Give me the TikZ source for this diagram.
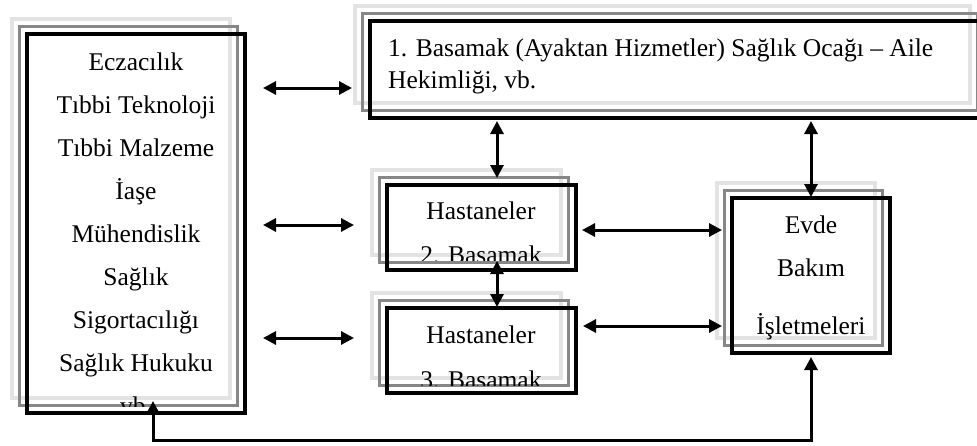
\documentclass[tikz,border=0pt]{standalone}
\usepackage{fontspec}
\setmainfont{Liberation Serif}
\usetikzlibrary{arrows.meta,fit}
\definecolor{framelight}{gray}{0.89}
\definecolor{framemid}{gray}{0.53}
\tikzset{
  framelightline/.style={draw=framelight,line width=3.5pt},
  framemidline/.style={draw=framemid,line width=3.5pt},
  frameblack/.style={rectangle,draw=black,line width=3.7pt,inner sep=0pt},
  boxtext/.style={anchor=base,inner sep=0pt,font=\fontsize{25.5}{30}\selectfont},
  link/.style={line width=3pt,{Triangle[length=13pt,width=13pt]}-{Triangle[length=13pt,width=13pt]}}
}
% three stacked frames: light, mid grey, then the black one (named node)
\newcommand\tripleframe[5]{%
  \draw[framelightline] (#2-15,#3-15) rectangle (#4-15,#5-15);
  \draw[framemidline] (#2-7.5,#3-7.5) rectangle (#4-7.5,#5-7.5);
  \node[frameblack,fit={(#2,#3) (#4,#5)}] (#1) {};
}
\begin{document}
\begin{tikzpicture}[x=1pt,y=-1pt]
\useasboundingbox (0,0) rectangle (977,445);

% frames
\tripleframe{sector}{27}{34}{245}{413}
\tripleframe{primary}{370}{21}{985}{118}
\tripleframe{hosp2}{387}{185}{576}{270}
\tripleframe{hosp3}{387}{308}{576}{393}
\tripleframe{homecare}{732}{198}{890}{353}

% supporting sectors
\begin{scope}
  \clip (27,34) rectangle (245,406);
  \node[boxtext] (s1) at (136,70) {Eczacılık};
  \node[boxtext] (s2) at (136,113) {Tıbbi Teknoloji};
  \node[boxtext] (s3) at (136,156) {Tıbbi Malzeme};
  \node[boxtext] (s4) at (136,199) {İaşe};
  \node[boxtext] (s5) at (136,242) {Mühendislik};
  \node[boxtext] (s6) at (136,285) {Sağlık};
  \node[boxtext] (s7) at (136,328) {Sigortacılığı};
  \node[boxtext] (s8) at (136,371) {Sağlık Hukuku};
  \node[boxtext] (s9) at (136,414) {vb.};
\end{scope}

% primary care
\node[boxtext,anchor=base west] (p1) at (388,56) {1. Basamak (Ayaktan Hizmetler) Sağlık Ocağı – Aile};
\node[boxtext,anchor=base west] (p2) at (388,88) {Hekimliği, vb.};

% hospitals
\begin{scope}
  \clip (387,185) rectangle (576,260);
  \node[boxtext] (h2a) at (481,219) {Hastaneler};
  \node[boxtext] (h2b) at (481,263) {2. Basamak};
\end{scope}
\begin{scope}
  \clip (387,308) rectangle (576,385);
  \node[boxtext] (h3a) at (481,343) {Hastaneler};
  \node[boxtext] (h3b) at (481,388) {3. Basamak};
\end{scope}

% home care
\node[boxtext] (e1) at (811,233) {Evde};
\node[boxtext] (e2) at (811,276) {Bakım};
\node[boxtext] (e3) at (811,334) {İşletmeleri};

% connector ends
\coordinate (a1l) at (263,88);  \coordinate (a1r) at (352,88);
\coordinate (a2l) at (263,225); \coordinate (a2r) at (354,225);
\coordinate (a3l) at (263,338); \coordinate (a3r) at (354,338);
\coordinate (v1t) at (497,121); \coordinate (v1b) at (497,178);
\coordinate (v2t) at (497,261); \coordinate (v2b) at (497,307);
\coordinate (v3t) at (811,121); \coordinate (v3b) at (811,197);
\coordinate (b2l) at (582,230); \coordinate (b2r) at (722,230);
\coordinate (b3l) at (583,326); \coordinate (b3r) at (722,326);
\coordinate (lp1) at (153,401); \coordinate (lp2) at (153,440);
\coordinate (lp3) at (811,440); \coordinate (lp4) at (811,357);

\draw[link] (a1l) -- (a1r);
\draw[link] (a2l) -- (a2r);
\draw[link] (a3l) -- (a3r);
\draw[link] (v1t) -- (v1b);
\draw[link] (v2t) -- (v2b);
\draw[link] (v3t) -- (v3b);
\draw[link] (b2l) -- (b2r);
\draw[link] (b3l) -- (b3r);
\draw[link] (lp1) -- (lp2) -- (lp3) -- (lp4);
\end{tikzpicture}
\end{document}
